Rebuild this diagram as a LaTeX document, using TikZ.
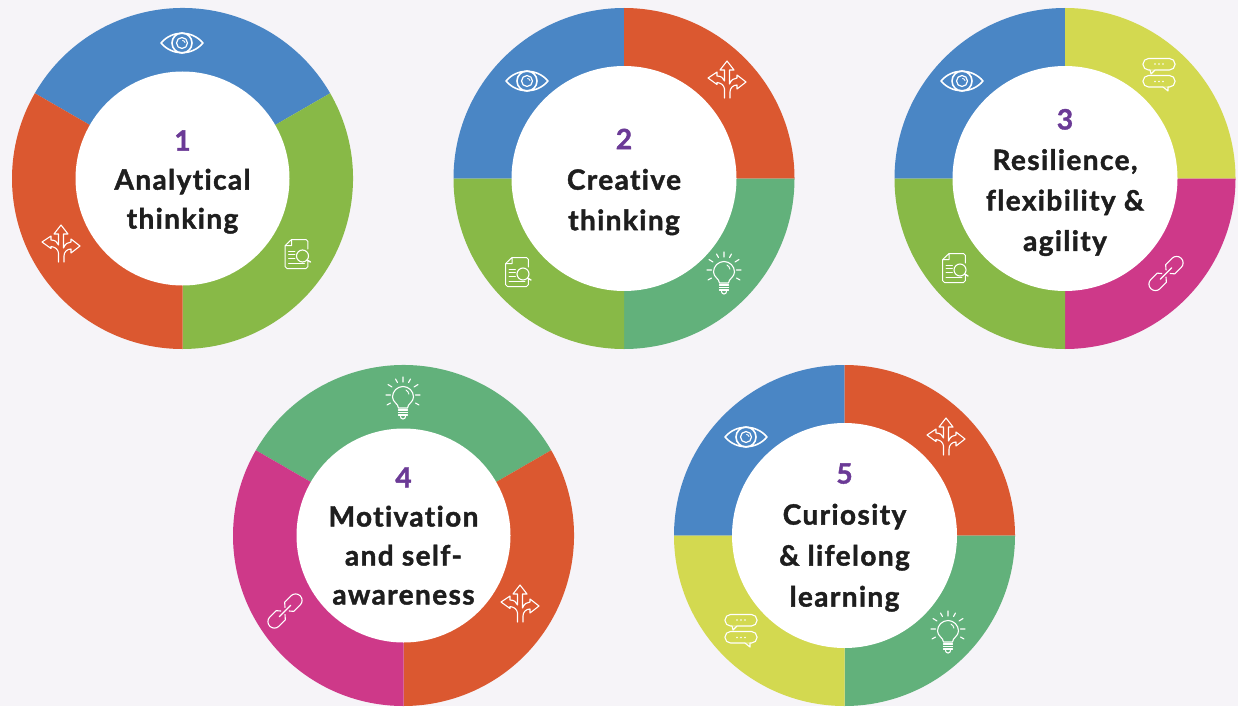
\documentclass[tikz,border=0pt]{standalone}
\usepackage{fontspec}
\setmainfont[LetterSpace=5,Ligatures=NoCommon,BoldFeatures={FakeBold=1.5}]{Lato}
\definecolor{bgc}{HTML}{F6F4F8}
\definecolor{cblue}{HTML}{4A86C5}
\definecolor{cred}{HTML}{DB5830}
\definecolor{cgreen}{HTML}{88B947}
\definecolor{cteal}{HTML}{62B17B}
\definecolor{cyellow}{HTML}{D3D950}
\definecolor{cmag}{HTML}{CE3989}
\definecolor{cpurple}{HTML}{6B3A96}
\definecolor{ctext}{HTML}{1E1E1E}
\newcommand{\sector}[5]{% centre, inner r, from, to, colour
  \fill[#5] ($(#1)+(#3:170.5)$) arc[start angle=#3,end angle=#4,radius=170.5]
    -- ($(#1)+(#4:#2)$) arc[start angle=#4,end angle=#3,radius=#2] -- cycle;}
\newcommand{\num}[1]{{\color{cpurple}#1}}
\usetikzlibrary{calc}
\tikzset{
  hole/.style={circle,fill=white,inner sep=0pt,minimum size=#1},
  ringtext/.style={align=center,text=ctext,font=\fontsize{28}{#1}\selectfont\bfseries,inner sep=0pt},
  ic/.style={draw=white,line width=1.1pt,line join=round,line cap=round},
  eyeicon/.pic={
    \draw[ic,line width=1.6pt] (-21,0) .. controls (-10,-13) and (10,-13) .. (21,0) .. controls (10,13) and (-10,13) .. (-21,0) -- cycle;
    \draw[ic,line width=1.6pt] (0,0) circle[radius=10];
    \draw[ic,line width=1.2pt] (0,0) circle[radius=5.5];
    \draw[ic,line width=0.9pt] (0.5,-2.500) arc[start angle=-90,end angle=-10,radius=2.500];
  },
  arrowicon/.pic={
    \draw[ic] (-2.500,17) -- (-2.500,8) .. controls (-3,4) and (-6,2) .. (-10,1.500) -- (-10,3.500) -- (-19,-3) -- (-10,-9) -- (-10,-5)
       .. controls (-6,-5) and (-3.500,-3) .. (-2.500,0) -- (-2.500,-11) -- (-7,-11) -- (0,-20) -- (7,-11) -- (2.500,-11) -- (2.500,3)
       .. controls (4,-1) and (7,-3) .. (10,-3) -- (10,-6) -- (19,1) -- (10,8) -- (10,4)
       .. controls (6,4) and (3,7) .. (3,11) -- (3,17);
  },
  docicon/.pic={
    \draw[ic,line width=1pt] (-5,-14.500) -- (9.500,-14.500) .. controls (10.500,-14.500) and (11.300,-13.700) .. (11.300,-12.700) -- (11.300,-5);
    \draw[ic,line width=1pt] (11.300,7) -- (11.300,12.700) .. controls (11.300,13.700) and (10.500,14.500) .. (9.500,14.500) -- (-9.500,14.500) .. controls (-10.500,14.500) and (-11.300,13.700) .. (-11.300,12.700) -- (-11.300,-8.500) -- (-5,-14.500) -- (-5,-8.500) -- (-11.300,-8.500);
    \draw[ic] (6,2) circle[radius=6];
    \draw[ic,line width=1.4pt] (10.500,6) -- (14,8);
    \draw[ic,line width=0.9pt] (-8,-3) -- (-1.500,-3) (-8,0.700) -- (-1.500,0.700) (-8,4.500) -- (-1.500,4.500) (-8,9) -- (8,9);
  },
  bulbicon/.pic={
    \draw[ic] (-4.500,10) .. controls (-4.500,6) and (-10.500,4) .. (-10.500,-1) arc[start angle=180,end angle=360,radius=10.500]
       .. controls (10.500,4) and (4.500,6) .. (4.500,10) -- cycle;
    \draw[ic] (-4.500,12) -- (4.500,12) (-4.500,14.500) -- (4.500,14.500) (-4.500,17) -- (4.500,17);
    \draw[ic] (-2.500,18.500) arc[start angle=180,end angle=0,radius=2.500];
    \draw[ic,line width=0.9pt] (3,-8) arc[start angle=-60,end angle=-10,radius=6];
    \draw[ic] (0,-21) -- (0,-16) (-7.500,-19) -- (-5.500,-15.500) (7.500,-19) -- (5.500,-15.500)
       (-15,-13.500) -- (-11,-11) (15,-13.500) -- (11,-11) (-17,-3) -- (-12.500,-3) (17,-3) -- (12.500,-3)
       (-16,7) -- (-12.500,5) (16,7) -- (12.500,5);
  },
  chaticon/.pic={
    \draw[ic,rounded corners=5.5pt] (-16,-16.500) rectangle (16,-5);
    \draw[ic,rounded corners=5.5pt] (-16,0.500) rectangle (16,12);
    \fill[cfillc] (-9,-5.700) rectangle (-4,-4.300) (4,11.300) rectangle (9,12.700);
    \draw[ic] (-9,-5) -- (-8,-1) -- (-4,-5);
    \draw[ic] (4,12) -- (9,16) -- (9,12);
    \fill[white] (-4,-11) circle[radius=0.8] (0,-11) circle[radius=0.8] (4,-11) circle[radius=0.8]
      (-4,6.500) circle[radius=0.8] (0,6.500) circle[radius=0.8] (4,6.500) circle[radius=0.8];
  },
  linkicon/.pic={
    \begin{scope}[rotate=45]
      \draw[ic] (2.500,-2.500) -- (6,-6.500) -- (15,-6.500) arc[start angle=-90,end angle=90,radius=6.500] -- (6,6.500) -- (3,3);
      \draw[ic] (-2.500,2.500) -- (-6,6.500) -- (-15,6.500) arc[start angle=90,end angle=270,radius=6.500] -- (-6,-6.500) -- (-3,-3);
      \draw[ic] (-8,0) -- (8,0);
    \end{scope}
  },
}
\colorlet{cfillc}{cyellow}
\begin{document}
\begin{tikzpicture}[x=1pt,y=-1pt]
\useasboundingbox (0,0) rectangle (1238,706);
\fill[bgc] (0,0) rectangle (1238,706);
% ring 1
\coordinate (c1) at (182.5,178.5);
\sector{c1}{106}{-150}{-30}{cblue}
\sector{c1}{106}{-30}{90}{cgreen}
\sector{c1}{106}{90}{210}{cred}
\node[hole=214pt] (h1) at (c1) {};
\node[ringtext=39pt] (t1) at (182.5,182) {\num{1}\\Analytical\\thinking};
\pic at (182,43) {eyeicon};
\pic at (61,245) {arrowicon};
\pic at (296.5,254) {docicon};
% ring 2
\coordinate (c2) at (624,178.5);
\sector{c2}{112}{-180}{-90}{cblue}
\sector{c2}{112}{-90}{0}{cred}
\sector{c2}{112}{0}{90}{cteal}
\sector{c2}{112}{90}{180}{cgreen}
\node[hole=225pt] (h2) at (c2) {};
\node[ringtext=40.5pt] (t2) at (624,182) {\num{2}\\Creative\\thinking};
\pic at (527,81) {eyeicon};
\pic at (727,81) {arrowicon};
\pic at (724,273) {bulbicon};
\pic at (517,272) {docicon};
% ring 3
\coordinate (c3) at (1065,178.5);
\sector{c3}{112}{-180}{-90}{cblue}
\sector{c3}{112}{-90}{0}{cyellow}
\sector{c3}{112}{0}{90}{cmag}
\sector{c3}{112}{90}{180}{cgreen}
\node[hole=225pt] (h3) at (c3) {};
\node[ringtext=40.5pt] (t3) at (1065,182.5) {\num{3}\\Resilience,\\flexibility \&\\agility};
\pic at (962,81) {eyeicon};
\pic at (1159,75) {chaticon};
\pic at (1166,273.500) {linkicon};
\pic at (954,268) {docicon};
% ring 4
\coordinate (c4) at (403.5,535.5);
\sector{c4}{106}{-150}{-30}{cteal}
\sector{c4}{106}{-30}{90}{cred}
\sector{c4}{106}{90}{210}{cmag}
\node[hole=214pt] (h4) at (c4) {};
\node[ringtext=39pt] (t4) at (403.5,536) {\num{4}\\Motivation\\and self-\\awareness};
\pic at (403,398) {bulbicon};
\pic at (520,605) {arrowicon};
\pic at (285,611) {linkicon};
% ring 5
\coordinate (c5) at (844.5,535.5);
\sector{c5}{112}{-180}{-90}{cblue}
\sector{c5}{112}{-90}{0}{cred}
\sector{c5}{112}{0}{90}{cteal}
\sector{c5}{112}{90}{180}{cyellow}
\node[hole=225pt] (h5) at (c5) {};
\node[ringtext=41pt] (t5) at (844.5,537.5) {\num{5}\\Curiosity\\\& lifelong\\learning};
\pic at (746,437) {eyeicon};
\pic at (946,438) {arrowicon};
\pic at (948,632) {bulbicon};
\pic at (741,631) {chaticon};
\end{tikzpicture}
\end{document}
